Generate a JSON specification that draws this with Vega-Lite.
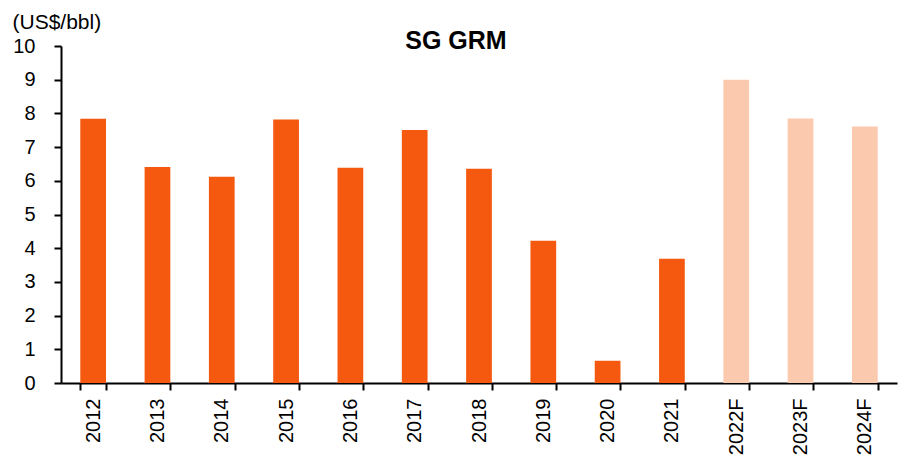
{
  "$schema": "https://vega.github.io/schema/vega-lite/v6.json",
  "width": 836,
  "height": 337,
  "autosize": {"type": "none"},
  "padding": {"left": 61, "top": 46, "right": 8, "bottom": 74},
  "background": "white",
  "config": {
    "font": "Liberation Sans",
    "view": {"stroke": null}
  },
  "title": {
    "text": "SG GRM",
    "fontSize": 25,
    "fontWeight": "bold",
    "color": "black",
    "anchor": "middle",
    "baseline": "alphabetic",
    "offset": 0,
    "dx": -23,
    "dy": 63
  },
  "data": {
    "values": [
      {"year": "2012", "grm": 7.84, "type": "Actual"},
      {"year": "2013", "grm": 6.41, "type": "Actual"},
      {"year": "2014", "grm": 6.12, "type": "Actual"},
      {"year": "2015", "grm": 7.82, "type": "Actual"},
      {"year": "2016", "grm": 6.39, "type": "Actual"},
      {"year": "2017", "grm": 7.51, "type": "Actual"},
      {"year": "2018", "grm": 6.36, "type": "Actual"},
      {"year": "2019", "grm": 4.22, "type": "Actual"},
      {"year": "2020", "grm": 0.66, "type": "Actual"},
      {"year": "2021", "grm": 3.69, "type": "Actual"},
      {"year": "2022F", "grm": 9.0, "type": "Forecast"},
      {"year": "2023F", "grm": 7.85, "type": "Forecast"},
      {"year": "2024F", "grm": 7.61, "type": "Forecast"}
    ]
  },
  "mark": {"type": "bar"},
  "encoding": {
    "x": {
      "field": "year",
      "type": "nominal",
      "sort": null,
      "scale": {"paddingInner": 0.6, "paddingOuter": 0.3},
      "axis": {
        "title": null,
        "labelAngle": -90,
        "labelFontSize": 20,
        "labelColor": "black",
        "labelPadding": 8,
        "tickBand": "extent",
        "tickSize": 7,
        "tickWidth": 2,
        "tickColor": "black",
        "domainColor": "black",
        "domainWidth": 2
      }
    },
    "y": {
      "field": "grm",
      "type": "quantitative",
      "scale": {"domain": [0, 10], "nice": false},
      "axis": {
        "values": [0, 1, 2, 3, 4, 5, 6, 7, 8, 9, 10],
        "grid": false,
        "title": "(US$/bbl)",
        "titleAngle": 0,
        "titleFontSize": 21,
        "titleFontWeight": "normal",
        "titleColor": "black",
        "titleAlign": "left",
        "titleBaseline": "middle",
        "titleX": -49,
        "titleY": -24,
        "labelFontSize": 20,
        "labelColor": "black",
        "labelPadding": 19,
        "tickSize": 7,
        "tickWidth": 2,
        "tickColor": "black",
        "domainColor": "black",
        "domainWidth": 2
      }
    },
    "color": {
      "field": "type",
      "type": "nominal",
      "scale": {"domain": ["Actual", "Forecast"], "range": ["#F4590F", "#FBC9AE"]},
      "legend": null
    }
  }
}
